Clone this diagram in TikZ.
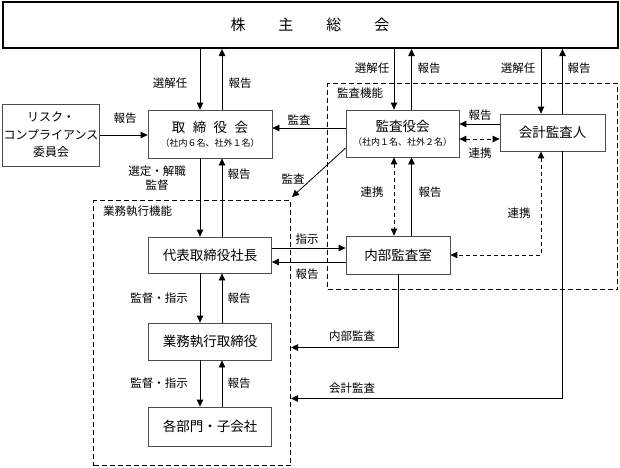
\documentclass[tikz,border=0pt]{standalone}
\usepackage{fontspec}
\setmainfont{Noto Sans CJK JP}
\usetikzlibrary{arrows.meta,calc}
\newcommand\subsz{\fontsize{9}{10}\selectfont}
\begin{document}
\begin{tikzpicture}[x=1pt,y=-1pt,
  box/.style={draw=black!70, line width=0.8pt, fill=white, inner sep=0pt, align=center,
    font=\fontsize{13.5}{16}\selectfont},
  lab/.style={font=\fontsize{11.5}{13.5}\selectfont, inner sep=0pt},
  arr/.style={line width=0.8pt, -{Triangle[length=7pt,width=6.5pt]}},
  darr/.style={line width=1pt, dash pattern=on 4pt off 3pt, {Triangle[length=7pt,width=6.5pt]}-{Triangle[length=7pt,width=6.5pt]}},
  area/.style={draw, line width=1pt, dash pattern=on 5pt off 3pt, inner sep=0pt}]
\useasboundingbox (0,0) rectangle (620,467);

% dashed areas
\node[area, minimum width=197pt, minimum height=265pt, anchor=north west] (gyobox) at (93,200) {};
\node[area, minimum width=290pt, minimum height=206pt, anchor=north west] (kanbox) at (327,83) {};
\node[lab, anchor=west] (gyolab) at (103,211) {業務執行機能};
\node[lab, anchor=west] (kanlab) at (337,93) {監査機能};

% boxes
\node[box, draw=black, line width=2pt, minimum width=615pt, minimum height=46pt,
  font=\fontsize{15}{18}\selectfont] (top) at (310,25) {株\hspace{2.2em}主\hspace{2.2em}総\hspace{2.2em}会};
\node[box, minimum width=124pt, minimum height=48pt] (tor) at (210,134)
  {取\hspace{0.55em}締\hspace{0.55em}役\hspace{0.55em}会\\[-2pt]{\subsz（社内６名、社外１名）}};
\node[box, minimum width=97pt, minimum height=62pt, font=\fontsize{12}{17.5}\selectfont] (risk) at (51,135)
  {リスク・\\コンプライアンス\\委員会};
\node[box, minimum width=113pt, minimum height=47pt] (kansa) at (402.5,133.5)
  {監査役会\\[-2pt]{\subsz（社内１名、社外２名）}};
\node[box, minimum width=105pt, minimum height=37pt] (kaikei) at (552.5,132.5) {会計監査人};
\node[box, minimum width=123pt, minimum height=36pt] (daihyo) at (210,255) {代表取締役社長};
\node[box, minimum width=104pt, minimum height=38pt] (naibu) at (398,255) {内部監査室};
\node[box, minimum width=123pt, minimum height=37pt] (gyomu) at (210,341.5) {業務執行取締役};
\node[box, minimum width=123pt, minimum height=39pt] (kakubu) at (210,426.5) {各部門・子会社};

% top <-> tor
\coordinate (ta) at ([xshift=-10pt]tor.north);
\coordinate (tb) at ([xshift=12pt]tor.north);
\draw[arr] (ta |- top.south) -- (ta);
\draw[arr] (tb) -- (tb |- top.south);
% top <-> kansa
\coordinate (ka) at ([xshift=-8.5pt]kansa.north);
\coordinate (kb) at ([xshift=9pt]kansa.north);
\draw[arr] (ka |- top.south) -- (ka);
\draw[arr] (kb) -- (kb |- top.south);
% top <-> kaikei
\coordinate (ea) at ([xshift=-11.5pt]kaikei.north);
\coordinate (eb) at ([xshift=10pt]kaikei.north);
\draw[arr] (ea |- top.south) -- (ea);
\draw[arr] (eb) -- (eb |- top.south);

% risk -> tor
\draw[arr] (risk.east) -- (risk.east -| tor.west);
% kansa -> tor
\coordinate (m1) at ([yshift=5.5pt]kansa.west);
\draw[arr] (m1) -- (m1 -| tor.east);
% kansa -> gyobox diagonal
\coordinate (m2) at ([yshift=-14.5pt]kansa.west);
\draw[arr] (m2) -- ([xshift=1pt,yshift=3pt]gyobox.north east);
% kaikei -> kansa
\coordinate (e1) at ([yshift=8.5pt]kaikei.west);
\draw[arr] (e1) -- (e1 -| kansa.east);
\coordinate (e2) at ([yshift=-6.5pt]kaikei.west);
\draw[darr] (e2 -| kansa.east) -- (e2);

% tor <-> daihyo
\coordinate (tc) at ([xshift=-10pt]tor.south);
\coordinate (td) at ([xshift=12pt]tor.south);
\draw[arr] (tc) -- (tc |- daihyo.north);
\draw[arr] (td |- daihyo.north) -- (td);
% daihyo <-> gyomu
\coordinate (da) at ([xshift=-10pt]daihyo.south);
\coordinate (db) at ([xshift=12pt]daihyo.south);
\draw[arr] (da) -- (da |- gyomu.north);
\draw[arr] (db |- gyomu.north) -- (db);
% gyomu <-> kakubu
\coordinate (ga) at ([xshift=-10pt]gyomu.south);
\coordinate (gb) at ([xshift=12pt]gyomu.south);
\draw[arr] (ga) -- (ga |- kakubu.north);
\draw[arr] (gb |- kakubu.north) -- (gb);

% daihyo <-> naibu
\coordinate (d1) at ([yshift=7pt]daihyo.east);
\coordinate (d2) at ([yshift=-7pt]daihyo.east);
\draw[arr] (d1) -- (d1 -| naibu.west);
\draw[arr] (d2 -| naibu.west) -- (d2);

% kansa <-> naibu
\coordinate (ks1) at ([xshift=-8.5pt]kansa.south);
\coordinate (ks2) at ([xshift=9pt]kansa.south);
\draw[darr] (ks1) -- (ks1 |- naibu.north);
\draw[arr] (ks2 |- naibu.north) -- (ks2);

% kaikei <-> naibu dashed
\coordinate (es1) at ([xshift=-11.5pt]kaikei.south);
\coordinate (es2) at ([xshift=10pt]kaikei.south);
\draw[darr] (es1) |- (naibu.east);
% kaikei -> gyobox
\coordinate (kaend) at (291,398.5);
\draw[arr] (es2) |- (kaend);
% naibu -> gyobox
\coordinate (naend) at (291,347.5);
\draw[arr] (naibu.south) |- (naend);

% labels
\node[lab] (l1) at (170,83) {選解任};
\node[lab] (l2) at (240,83) {報告};
\node[lab] (l3) at (372,68) {選解任};
\node[lab] (l4) at (429,68) {報告};
\node[lab] (l5) at (518,68) {選解任};
\node[lab] (l6) at (579,68) {報告};
\node[lab] (l7) at (125,118) {報告};
\node[lab] (l8) at (299,120) {監査};
\node[lab] (l9) at (293,179) {監査};
\node[lab] (l10) at (480,115) {報告};
\node[lab] (l11) at (480,153) {連携};
\node[lab, align=center] (l12) at (157,178) {選定・解職\\監督};
\node[lab] (l13) at (239,174) {報告};
\node[lab] (l14) at (372,192) {連携};
\node[lab] (l15) at (430,192) {報告};
\node[lab] (l16) at (519,213) {連携};
\node[lab] (l17) at (307,239) {指示};
\node[lab] (l18) at (307,274) {報告};
\node[lab] (l19) at (159,298) {監督・指示};
\node[lab] (l20) at (239,298) {報告};
\node[lab] (l21) at (352,336) {内部監査};
\node[lab] (l22) at (159,383) {監督・指示};
\node[lab] (l23) at (239,383) {報告};
\node[lab] (l24) at (352,388) {会計監査};
\end{tikzpicture}
\end{document}
